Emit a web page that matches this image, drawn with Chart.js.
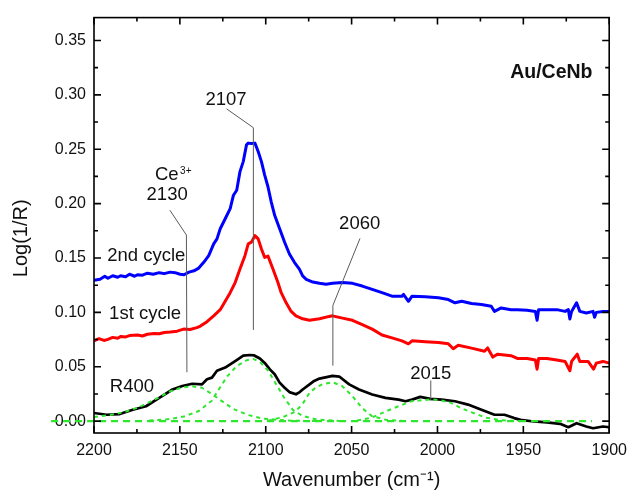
<!DOCTYPE html>
<html><head><meta charset="utf-8">
<script src="https://cdn.jsdelivr.net/npm/chart.js@4.4.1/dist/chart.umd.min.js"></script>
<style>html,body{margin:0;padding:0;background:#fff;overflow:hidden}canvas{display:block}</style>
</head><body>
<canvas id="c" width="635" height="493"></canvas>
<script>
// ---- tick labels ----
const xTicks = [2200, 2150, 2100, 2050, 2000, 1950, 1900];
const xMinorTicks = [2175, 2125, 2075, 2025, 1975, 1925];
const yTicks = [0, 0.05, 0.10, 0.15, 0.20, 0.25, 0.30, 0.35];
const yMinorTicks = [0.025, 0.075, 0.125, 0.175, 0.225, 0.275, 0.325];

// ---- series: 2nd cycle ----
const wn2nd = [2200,2196.5,2193.7,2191.9,2189.1,2186.2,2184.5,2181.6,2179.3,2176.4,2174.7,2171.8,2168.9,2165.5,2162,2159.1,2155.7,2152.8,2149.9,2147.6,2144.7,2141.8,2139,2136.1,2133.2,2130.3,2128.4,2126.5,2123.6,2120.7,2118.8,2116.9,2115,2113.1,2111.2,2110.2,2108.4,2106.3,2104.4,2102.5,2100.6,2098.7,2096.8,2094.8,2091.9,2089,2086.2,2083.3,2080.4,2078.5,2076.4,2072.6,2068.7,2064.9,2061.1,2055.3,2049.5,2043.8,2038,2032.3,2026.5,2020.7,2019.8,2016.9,2014.8,2007.1,1999.4,1993.7,1989.8,1985.9,1980.2,1974.4,1968.7,1966.8,1962.9,1957.2,1953.5,1947.8,1943,1942,1941.1,1936.3,1930.5,1925.7,1923.8,1922.9,1921.9,1919,1917.1,1913.3,1909.4,1908.5,1907.5,1903.6,1900];
const val2nd = [0.1295,0.1304,0.1332,0.1314,0.1337,0.1323,0.1337,0.1328,0.1351,0.1332,0.1346,0.1342,0.136,0.1351,0.1365,0.1356,0.137,0.1365,0.1351,0.1346,0.137,0.1382,0.1407,0.146,0.1521,0.163,0.1676,0.1769,0.1861,0.1954,0.2077,0.2123,0.2294,0.2386,0.254,0.2556,0.2552,0.2556,0.2479,0.2386,0.2262,0.2155,0.2016,0.1892,0.1769,0.1645,0.1537,0.146,0.1398,0.1335,0.1304,0.1279,0.1267,0.1258,0.1267,0.1274,0.1267,0.1242,0.1211,0.1181,0.1149,0.1149,0.1165,0.1102,0.1149,0.1143,0.1134,0.1118,0.1088,0.1102,0.1081,0.1072,0.1056,0.1009,0.1041,0.1025,0.1025,0.1019,0.1009,0.0927,0.1025,0.1025,0.1025,0.1009,0.1025,0.0939,0.1009,0.1088,0.1009,0.0995,0.1009,0.0955,0.100,0.1009,0.1009];

// ---- series: 1st cycle ----
const wn1st = [2200,2197.1,2194.2,2191.9,2189.1,2186.2,2184.3,2181.6,2179.3,2174.7,2171.8,2168.9,2165,2162,2159.1,2155.5,2151.6,2147.8,2144.1,2140.1,2138,2134.2,2130.3,2126.5,2123.6,2120.7,2117.8,2115,2112.1,2110.2,2108.3,2106.3,2104.4,2102.5,2100.6,2098.7,2095.8,2092.9,2091,2088.1,2085.2,2082.4,2078.5,2074.5,2068.7,2063,2061.1,2055.3,2049.5,2043.8,2038,2032.3,2026.5,2020.7,2016.9,2014.8,2007.1,1999.4,1993.7,1990.8,1987.9,1980.2,1972.6,1970.8,1967.8,1964.9,1957.2,1953.5,1947.8,1943,1942,1941.1,1936.3,1930.5,1925.7,1922.9,1921.9,1918.6,1917.1,1912.3,1909.1,1907.5,1903.6,1900];
const val1st = [0.0738,0.0758,0.0742,0.0752,0.077,0.0762,0.0779,0.0774,0.0787,0.0792,0.0783,0.0799,0.0805,0.0803,0.0815,0.0819,0.0827,0.0846,0.0843,0.086,0.0874,0.0914,0.0968,0.1025,0.1102,0.1181,0.1274,0.1398,0.1521,0.163,0.1646,0.1706,0.1676,0.1583,0.1506,0.1518,0.1398,0.1274,0.1181,0.1088,0.1009,0.0968,0.0941,0.0927,0.0941,0.0963,0.0968,0.0947,0.0927,0.0887,0.0846,0.0792,0.0765,0.0738,0.0711,0.0738,0.073,0.0724,0.0711,0.0665,0.0697,0.0671,0.0643,0.0673,0.0589,0.0616,0.0602,0.0576,0.0576,0.0562,0.0478,0.0576,0.0576,0.0562,0.0549,0.0463,0.0549,0.0616,0.0549,0.0549,0.0478,0.0533,0.0549,0.0533];

// ---- series: R400 ----
const wnR400 = [2200,2192.7,2185,2177.4,2169.7,2162,2154.3,2148.6,2142.8,2137.1,2134.2,2131.3,2128.4,2123.6,2116.9,2113.1,2109.2,2106.7,2103.4,2100.6,2097.7,2094.8,2091.9,2089,2086.2,2082.4,2080.2,2078.5,2074.5,2071.8,2068.7,2061.1,2057.2,2051.4,2045.7,2038,2030.3,2022.6,2018.6,2014.8,2010,2004.2,1997.5,1989.8,1982.2,1974.4,1966.8,1961,1955.3,1951.6,1943.9,1936.3,1928.6,1923.8,1919,1913.3,1909.4,1903.6,1900];
const valR400 = [0.0075,0.0059,0.0065,0.0105,0.0137,0.0214,0.0291,0.0323,0.0344,0.0338,0.0385,0.04,0.0463,0.0493,0.0562,0.0602,0.0608,0.0604,0.0576,0.0535,0.0478,0.0431,0.0354,0.0307,0.0267,0.0247,0.0267,0.0291,0.0338,0.037,0.0391,0.0416,0.041,0.0338,0.0291,0.0245,0.0214,0.0198,0.0183,0.0198,0.0223,0.0205,0.0198,0.0183,0.0152,0.0105,0.0059,0.0059,0.0028,0.0012,-0.0003,-0.0012,-0.0025,-0.0056,-0.0019,-0.0049,-0.0065,-0.0049,-0.0056];

// ---- fitted components (green dashed) ----
const wnFit2142 = [2200,2190.8,2182.2,2173.5,2164.9,2156.2,2149.3,2143,2137.2,2131.5,2125.7,2118.8,2110.2,2101.5,2087.1,2069.9];
const valFit2142 = [0.0037,0.0056,0.0084,0.013,0.0196,0.027,0.0307,0.0321,0.0307,0.0251,0.0186,0.0112,0.0056,0.0023,0.0005,0];
const wnFit2107 = [2167.8,2156.2,2147.6,2139,2131.5,2126.3,2122.3,2117.1,2111.3,2107.3,2103.3,2098.7,2094.1,2089.4,2084.3,2078.5,2069.9,2055.5];
const valFit2107 = [0.0005,0.0019,0.0042,0.0093,0.0186,0.0317,0.0414,0.0503,0.0559,0.0572,0.0543,0.0466,0.0344,0.0219,0.0105,0.0047,0.0014,0];
const wnFit2061 = [2098.7,2090,2083.1,2078.5,2074.5,2071,2067,2061.2,2055.5,2049.7,2043.9,2038.2,2030.1,2018];
const valFit2061 = [0.0005,0.0037,0.0084,0.0158,0.0261,0.0307,0.034,0.0358,0.0323,0.0233,0.0121,0.0047,0.0012,0];
const wnFit2004 = [2046.8,2038.2,2029.6,2023.8,2015.2,2009.4,2003.6,1997.9,1992.1,1986.4,1980.6,1972,1963.3,1951.8];
const valFit2004 = [0.0005,0.0033,0.0093,0.013,0.0183,0.0191,0.02,0.0191,0.0168,0.0121,0.0084,0.0033,0.0009,0];
const wnBaseline = [2225, 1910];
const valBaseline = [0, 0];

// ---- annotations (data coordinates) ----
const noteTexts = [
  {t:'2107', x:2123.1, y:0.2956, align:'center'},
  {t:'2130', x:2157.4, y:0.2076, align:'center'},
  {t:'2060', x:2045.3, y:0.1817, align:'center'},
  {t:'2015', x:2003.9, y:0.0435, align:'center'},
  {t:'2nd cycle', x:2192.3, y:0.1522, align:'left'},
  {t:'1st cycle', x:2191.2, y:0.0987, align:'left'},
  {t:'R400', x:2190.8, y:0.0313, align:'left'}
];
const ceLabel = {t:'Ce', sup:'3+', x:2164.5, y:0.2261};
const sampleLabel = {t:'Au/CeNb', x:1933.7, y:0.320};
const leaders = [
  [[2122.8,0.2871],[2107.2,0.2698],[2107.2,0.0839]],
  [[2155.8,0.1939],[2146.2,0.1711],[2145.9,0.0449]],
  [[2045.1,0.1680],[2060.9,0.1064],[2060.9,0.0510]],
  [[2003.9,0.0374],[2003.9,0.0191]]
];

const FONT = "'Liberation Sans', Arial, Helvetica, sans-serif";
const zip = (xs, ys) => xs.map((x, i) => ({x, y: ys[i]}));
const GREEN = '#2ee62e';

const framePlugin = {
  id: 'frame',
  afterDatasetsDraw(chart) {
    const {ctx, chartArea: a, scales: {x, y}} = chart;
    ctx.save();
    ctx.strokeStyle = '#000';
    ctx.lineWidth = 1.6;
    ctx.beginPath();
    const tx = (vals, len) => vals.forEach(v => {
      const p = x.getPixelForValue(v);
      ctx.moveTo(p, a.bottom); ctx.lineTo(p, a.bottom - len);
      ctx.moveTo(p, a.top); ctx.lineTo(p, a.top + len);
    });
    const ty = (vals, len) => vals.forEach(v => {
      const p = y.getPixelForValue(v);
      ctx.moveTo(a.left, p); ctx.lineTo(a.left + len, p);
      ctx.moveTo(a.right, p); ctx.lineTo(a.right - len, p);
    });
    tx(xTicks, 7); tx(xMinorTicks, 4);
    ty(yTicks, 7); ty(yMinorTicks, 4);
    ctx.stroke();
    ctx.strokeRect(a.left, a.top, a.right - a.left, a.bottom - a.top);
    // y axis title
    ctx.fillStyle = '#111';
    ctx.font = '20px ' + FONT;
    ctx.textAlign = 'center';
    ctx.textBaseline = 'middle';
    ctx.translate(a.left - 72.5, (a.top + a.bottom) / 2 + 13);
    ctx.rotate(-Math.PI / 2);
    ctx.fillText('Log(1/R)', 0, 0);
    ctx.restore();
  }
};

const notesPlugin = {
  id: 'notes',
  afterDatasetsDraw(chart) {
    const {ctx, scales: {x, y}} = chart;
    const X = v => x.getPixelForValue(v), Y = v => y.getPixelForValue(v);
    ctx.save();
    ctx.strokeStyle = '#5a5a5a';
    ctx.lineWidth = 1;
    leaders.forEach(pts => {
      ctx.beginPath();
      pts.forEach(([a, b], i) => i ? ctx.lineTo(X(a), Y(b)) : ctx.moveTo(X(a), Y(b)));
      ctx.stroke();
    });
    ctx.fillStyle = '#111';
    ctx.textBaseline = 'middle';
    ctx.font = '18.5px ' + FONT;
    noteTexts.forEach(n => {
      ctx.textAlign = n.align;
      ctx.fillText(n.t, X(n.x), Y(n.y));
    });
    ctx.textAlign = 'left';
    const cx = X(ceLabel.x), cy = Y(ceLabel.y);
    ctx.fillText(ceLabel.t, cx, cy);
    const w = ctx.measureText(ceLabel.t).width;
    ctx.font = '10px ' + FONT;
    ctx.fillText(ceLabel.sup, cx + w + 1.5, cy - 4);
    ctx.font = 'bold 19.5px ' + FONT;
    ctx.textAlign = 'center';
    ctx.fillText(sampleLabel.t, X(sampleLabel.x), Y(sampleLabel.y));
    ctx.restore();
  }
};

const greenStyle = {borderColor: GREEN, borderWidth: 2, borderDash: [4, 4], pointRadius: 0, fill: false};

new Chart(document.getElementById('c'), {
  type: 'line',
  data: {
    datasets: [
      Object.assign({label: 'baseline', data: zip(wnBaseline, valBaseline), clip: false}, greenStyle, {borderWidth: 2.4, borderDash: [7, 5]}),
      Object.assign({label: 'fit 2142', data: zip(wnFit2142, valFit2142)}, greenStyle),
      Object.assign({label: 'fit 2107', data: zip(wnFit2107, valFit2107)}, greenStyle),
      Object.assign({label: 'fit 2061', data: zip(wnFit2061, valFit2061)}, greenStyle),
      Object.assign({label: 'fit 2004', data: zip(wnFit2004, valFit2004)}, greenStyle),
      {label: 'R400', data: zip(wnR400, valR400), borderColor: '#000', borderWidth: 2.7, pointRadius: 0, borderJoinStyle: 'round'},
      {label: '1st cycle', data: zip(wn1st, val1st), borderColor: '#ff0000', borderWidth: 3, pointRadius: 0, borderJoinStyle: 'round'},
      {label: '2nd cycle', data: zip(wn2nd, val2nd), borderColor: '#0000ff', borderWidth: 3, pointRadius: 0, borderJoinStyle: 'round'}
    ]
  },
  options: {
    responsive: false,
    animation: false,
    devicePixelRatio: 1,
    layout: {padding: {top: 14, right: 20, left: 0, bottom: 0}},
    plugins: {legend: {display: false}, tooltip: {enabled: false}},
    elements: {line: {tension: 0}},
    scales: {
      x: {
        type: 'linear', position: 'bottom', reverse: true, min: 1900, max: 2200,
        grid: {display: false, drawTicks: false}, border: {display: false},
        afterBuildTicks: s => { s.ticks = xTicks.map(v => ({value: v})); },
        afterFit: s => { s.height = 60; },
        ticks: {autoSkip: false, maxRotation: 0, padding: 8, color: '#111',
          font: {family: FONT, size: 16}, callback: v => String(v)},
        title: {display: true, text: 'Wavenumber (cm\u207B\u00B9)', color: '#111',
          font: {family: FONT, size: 20, lineHeight: 1}, padding: {top: 0, bottom: 3}}
      },
      y: {
        type: 'linear', position: 'left', min: -0.0109, max: 0.371,
        grid: {display: false, drawTicks: false}, border: {display: false},
        afterBuildTicks: s => { s.ticks = yTicks.map(v => ({value: v})); },
        afterFit: s => { s.width = 94; },
        ticks: {autoSkip: false, padding: 8, color: '#111',
          font: {family: FONT, size: 16}, callback: v => Number(v).toFixed(2)}
      }
    }
  },
  plugins: [framePlugin, notesPlugin]
});
</script>
</body></html>
